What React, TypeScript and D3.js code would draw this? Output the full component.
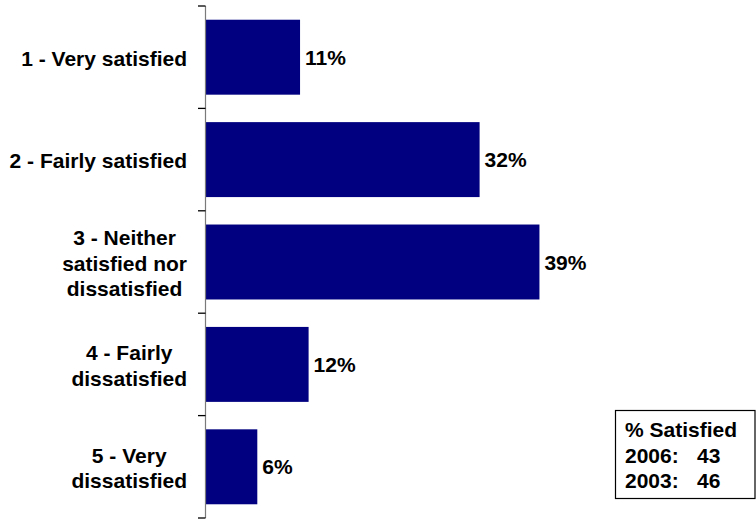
import React, { useMemo } from "react";
import * as d3 from "d3";

const categories: string[][] = [
  ["1 - Very satisfied"],
  ["2 - Fairly satisfied"],
  ["3 - Neither", "satisfied nor", "dissatisfied"],
  ["4 - Fairly", "dissatisfied"],
  ["5 - Very", "dissatisfied"],
];
const values: number[] = [11, 32, 39, 12, 6];
const legendTitle = "% Satisfied";
const legendYears: string[] = ["2006:", "2003:"];
const legendValues: number[] = [43, 46];

const W = 756;
const H = 521;
const FONT = "'Liberation Sans', Arial, sans-serif";
const FS = 21;
const LINE = 25.4;

export default function App() {
  const ids = categories.map((_, i) => String(i));
  const y = d3.scaleBand<string>().domain(ids).range([6, 518]).paddingInner(0.268).paddingOuter(0.134);
  const x = d3.scaleLinear().domain([0, 50]).range([206, 206 + 8.55 * 50]);
  const axisX = 205.5;
  const labelRight = 187;

  const measure = useMemo(() => {
    const c = document.createElement("canvas").getContext("2d")!;
    c.font = `bold ${FS}px ${FONT}`;
    return (s: string) => c.measureText(s).width;
  }, []);

  const tickYs = [...ids.map((id) => y(id)! - (y.step() - y.bandwidth()) / 2), 518];

  return (
    <div style={{ position: "absolute", left: 0, top: 0 }}>
      <svg width={W} height={H} style={{ display: "block", background: "#fff" }} fontFamily={FONT} fontWeight="bold" fontSize={FS}>
        {values.map((v, i) => (
          <rect key={i} x={x(0)} y={y(ids[i])!} width={x(v) - x(0)} height={y.bandwidth()} fill="#000080" />
        ))}
        <line x1={axisX} x2={axisX} y1={6} y2={518} stroke="#7a7a7a" strokeWidth={1.2} />
        {tickYs.map((t, i) => (
          <line key={i} x1={198} x2={axisX} y1={t} y2={t} stroke="#000" strokeWidth={1.3} />
        ))}
        {values.map((v, i) => (
          <text key={i} x={x(v) + 5} y={y(ids[i])! + y.bandwidth() / 2 + 7.5} fill="#000">
            {v}%
          </text>
        ))}
        {categories.map((lines, i) => {
          const maxW = Math.max(...lines.map(measure));
          const cx = labelRight - maxW / 2;
          const cy = y(ids[i])! + y.bandwidth() / 2;
          const first = cy + 8.5 - ((lines.length - 1) * LINE) / 2;
          return (
            <text key={i} textAnchor="middle" fill="#000">
              {lines.map((l, j) => (
                <tspan key={j} x={cx} y={first + j * LINE}>
                  {l}
                </tspan>
              ))}
            </text>
          );
        })}
        <rect x={615.5} y={410.5} width={139.5} height={88} fill="#fff" stroke="#000" strokeWidth={1.2} />
        <text x={625} y={437} fill="#000">{legendTitle}</text>
        {legendYears.map((yr, i) => (
          <g key={i}>
            <text x={625} y={462.5 + i * 25.5} fill="#000">{yr}</text>
            <text x={697} y={462.5 + i * 25.5} fill="#000">{legendValues[i]}</text>
          </g>
        ))}
      </svg>
    </div>
  );
}
